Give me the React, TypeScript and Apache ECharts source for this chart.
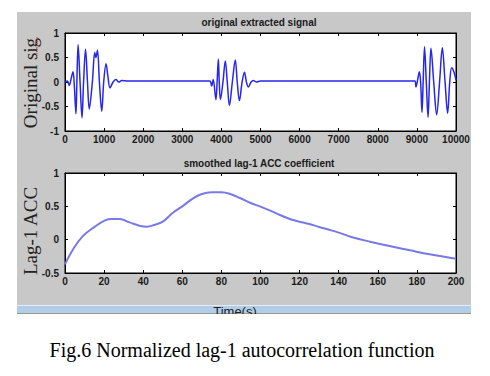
import React, { useEffect, useRef } from "react";
import * as echarts from "echarts";

// ---- data ----
const signalT = [
  0, 60, 110, 160, 205, 240, 280, 305, 335, 385, 435, 475, 525, 575, 620, 700, 760, 790, 830, 880, 940, 990, 1050, 1100, 1150, 1230, 1300, 1380, 1450, 1600,
  3700, 3750, 3790, 3860, 3890, 3922, 3945, 3975, 4040, 4100, 4150, 4205, 4280, 4355, 4405, 4460, 4530, 4590, 4640, 4690, 4760, 4820, 4900, 5000,
  8950, 8975, 9020, 9062, 9095, 9130, 9160, 9195, 9240, 9285, 9320, 9360, 9430, 9505, 9580, 9650, 9720, 9786, 9840, 9890, 9950, 10000,
];
const signalV = [
  0, 0.02, -0.07, 0.08, 0.21, -0.1, -0.65, 0.05, 0.76, 0, -0.73, 0, 0.67, 0, -0.55, 0, 0.6, 0.5, 0.65, 0, -0.6, 0, 0.37, 0.1, -0.12, 0, 0.05, 0, 0.03, 0.02,
  0.02, -0.08, 0.05, -0.36, 0, 0.47, 0, -0.36, 0, 0.43, 0, -0.48, 0, 0.45, 0, -0.38, 0, 0.2, 0, -0.1, 0, 0.03, 0, 0.02,
  0.02, -0.1, 0.05, 0.21, 0, -0.62, 0, 0.72, 0, -0.72, 0, 0.69, 0, -0.67, 0, 0.7, 0, -0.64, 0, 0.29, 0.2, 0.04,
];

const accT = [
  0, 4, 9, 15.5, 20.5, 24, 28, 33, 38.5, 42, 45.5, 50, 55, 60, 65.5, 70, 75, 80, 84.5, 89.5, 95, 100, 105, 110, 115, 120, 125, 130, 135.5, 140, 146, 156, 166, 176.5, 186.5, 200,
];
const accV = [
  -0.37, -0.15, 0.05, 0.2, 0.29, 0.31, 0.31, 0.26, 0.205, 0.195, 0.22, 0.27, 0.4, 0.5, 0.62, 0.685, 0.71, 0.71, 0.685, 0.625, 0.55, 0.495, 0.435, 0.37, 0.31, 0.27, 0.235, 0.19, 0.145, 0.105, 0.045, -0.03, -0.095, -0.16, -0.22, -0.285,
];

const topX = { min: 0, max: 10000, step: 1000 };
const topY = { min: -1, max: 1, step: 0.5 };
const botX = { min: 0, max: 200, step: 20 };
const botY = { min: -0.5, max: 1, step: 0.5 };

const titles = ["original extracted signal", "smoothed lag-1 ACC coefficient"];
const yNames = ["Original sig", "Lag-1 ACC"];
const xName = "Time(s)";
const caption = "Fig.6 Normalized lag-1 autocorrelation function";

const labelStyle = {
  fontFamily: "Liberation Sans, Arial, sans-serif",
  fontSize: 10,
  fontWeight: "bold" as const,
  color: "#1a1a1a",
};

function axis(gridIndex: number, r: { min: number; max: number; step: number }, position: string, showLabel: boolean, margin: number) {
  return {
    type: "value",
    gridIndex,
    position,
    min: r.min,
    max: r.max,
    interval: r.step,
    axisLine: { show: true, onZero: false, lineStyle: { color: "#000", width: 1 } },
    axisTick: { show: true, inside: true, length: 3, lineStyle: { color: "#000", width: 1 } },
    splitLine: { show: false },
    axisLabel: {
      show: showLabel,
      margin,
      ...labelStyle,
      formatter: (v: number) => String(v),
    },
  };
}

export default function App() {
  const ref = useRef<HTMLDivElement>(null);
  useEffect(() => {
    if (!ref.current) return;
    const chart = echarts.init(ref.current, undefined, { renderer: "svg" });
    const sig = signalT.map((t, i) => [t, signalV[i]]);
    const acc = accT.map((t, i) => [t, accV[i]]);
    chart.setOption({
      animation: false,
      backgroundColor: "#ffffff",
      grid: [
        { left: 65, top: 33, width: 391, height: 98, show: true, backgroundColor: "#fff", borderColor: "#000", borderWidth: 1 },
        { left: 65, top: 173, width: 391, height: 100, show: true, backgroundColor: "#fff", borderColor: "#000", borderWidth: 1 },
      ],
      xAxis: [
        axis(0, topX, "bottom", true, 3),
        axis(0, topX, "top", false, 3),
        axis(1, botX, "bottom", true, 3),
        axis(1, botX, "top", false, 3),
      ],
      yAxis: [
        axis(0, topY, "left", true, 6),
        axis(0, topY, "right", false, 6),
        axis(1, botY, "left", true, 6),
        axis(1, botY, "right", false, 6),
      ],
      series: [
        {
          type: "line",
          xAxisIndex: 0,
          yAxisIndex: 0,
          data: sig,
          smooth: 0.35,
          symbol: "none",
          lineStyle: { color: "#2626ee", width: 1.5 },
          z: 5,
        },
        {
          type: "line",
          xAxisIndex: 2,
          yAxisIndex: 2,
          data: acc,
          smooth: 0.4,
          symbol: "none",
          lineStyle: { color: "#7878e8", width: 2 },
          z: 5,
        },
      ],
      graphic: [
        { type: "rect", z: -10, shape: { x: 17, y: 12, width: 454, height: 293 }, style: { fill: "#c8c8c8" } },
        { type: "rect", z: -9, shape: { x: 17, y: 305, width: 454, height: 9 }, style: { fill: "#b2cde8" } },
        { type: "line", z: -8, shape: { x1: 17, y1: 305.5, x2: 471, y2: 305.5 }, style: { stroke: "#e2ecf6", lineWidth: 1 } },
        { type: "line", z: -8, shape: { x1: 17, y1: 313.5, x2: 471, y2: 313.5 }, style: { stroke: "#9a9a86", lineWidth: 1 } },
        {
          type: "text", z: 10, x: 235, y: 305,
          style: { text: xName, fill: "#222", font: "13px 'Liberation Sans', Arial, sans-serif", textAlign: "center", textVerticalAlign: "top" },
        },
        { type: "rect", z: 11, shape: { x: 0, y: 314, width: 490, height: 62 }, style: { fill: "#ffffff" } },
        {
          type: "text", z: 10, x: 259, y: 22.7,
          style: { text: titles[0], fill: "#1a1a1a", font: "bold 10px 'Liberation Sans', Arial, sans-serif", textAlign: "center", textVerticalAlign: "middle" },
        },
        {
          type: "text", z: 10, x: 259, y: 163.3,
          style: { text: titles[1], fill: "#1a1a1a", font: "bold 10px 'Liberation Sans', Arial, sans-serif", textAlign: "center", textVerticalAlign: "middle" },
        },
        {
          type: "text", z: 10, x: 30, y: 83, rotation: Math.PI / 2,
          style: { text: yNames[0], fill: "#222", font: "19px 'Liberation Serif', 'Times New Roman', serif", textAlign: "center", textVerticalAlign: "middle" },
        },
        { type: "line", z: 10, shape: { x1: 37, y1: 37, x2: 37, y2: 58 }, style: { stroke: "#e03030", lineWidth: 1, lineDash: [1, 1] } },
        {
          type: "text", z: 10, x: 30, y: 231, rotation: Math.PI / 2,
          style: { text: yNames[1], fill: "#222", font: "19px 'Liberation Serif', 'Times New Roman', serif", textAlign: "center", textVerticalAlign: "middle" },
        },
        {
          type: "text", z: 12, x: 242, y: 350,
          style: { text: caption, fill: "#000", font: "20px 'Liberation Serif', 'Times New Roman', serif", textAlign: "center", textVerticalAlign: "middle" },
        },
      ],
    });
    return () => chart.dispose();
  }, []);
  return <div ref={ref} style={{ position: "absolute", left: 0, top: 0, width: 490, height: 376 }} />;
}
